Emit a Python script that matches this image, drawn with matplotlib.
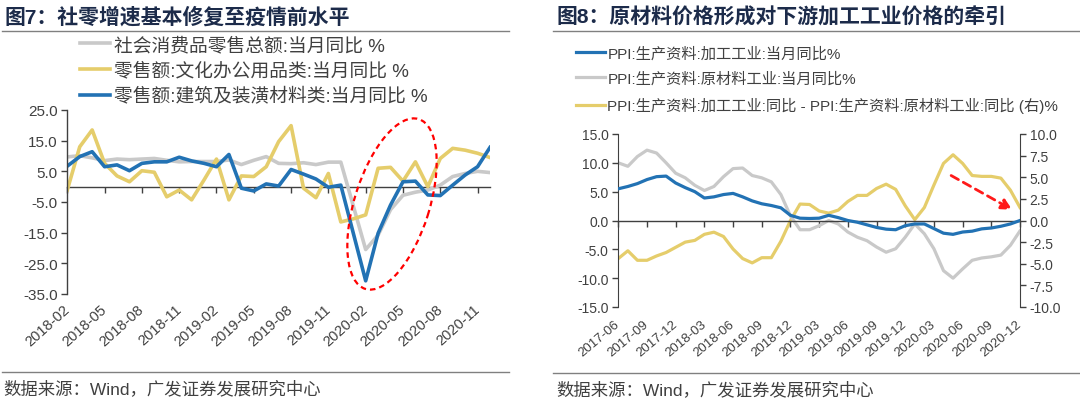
import numpy as np
import pandas as pd
import matplotlib
matplotlib.use('Agg')
import matplotlib.pyplot as plt
from matplotlib.lines import Line2D
from matplotlib.patches import Ellipse
from matplotlib.ticker import FormatStrFormatter

plt.rcParams['font.family'] = ['Liberation Sans', 'Noto Sans CJK SC', 'DejaVu Sans']
plt.rcParams['axes.unicode_minus'] = False

# ---------------- data: left chart (monthly, 2018-02 .. 2020-12) ----------------
months_l = pd.period_range('2018-02', '2020-12', freq='M').strftime('%Y-%m').tolist()
retail_total = [9.7, 10.1, 9.4, 8.5, 9.0, 8.8, 9.0, 9.2, 8.6, 8.1, 8.2, 8.2, 8.2, 8.7, 7.2,
                8.6, 9.8, 7.6, 7.5, 7.8, 7.2, 8.0, 8.0, -6.2, -20.5, -15.8, -7.5, -2.8, -1.8,
                -1.1, 0.5, 3.3, 4.3, 5.0, 4.6]
office_supplies = [-1.1, 13.0, 18.5, 7.6, 3.5, 1.6, 5.2, 4.7, -3.3, -1.1, -4.3, 2.2, 9.0, -4.3,
                   3.5, 3.3, 6.5, 14.7, 19.9, -0.5, -3.6, 4.3, -11.5, -10.5, -9.2, 6.0, 6.3,
                   1.8, 8.1, 0.0, 9.2, 12.5, 11.9, 10.9, 9.5]
building_mat = [6.7, 9.8, 11.4, 6.5, 7.1, 5.2, 7.6, 8.1, 8.1, 9.6, 8.4, 7.6, 6.5, 10.5, -0.5,
                -1.4, 0.9, 0.2, 5.6, 4.1, 2.5, -0.2, 0.5, -15.1, -30.7, -15.2, -6.0, 1.6, 1.8,
                -2.7, -2.9, 0.5, 3.8, 6.5, 12.8]
labels_l = ['社会消费品零售总额:当月同比 %', '零售额:文化办公用品类:当月同比 %',
            '零售额:建筑及装潢材料类:当月同比 %']

# ---------------- data: right chart (monthly, 2017-06 .. 2020-12) ----------------
months_r = pd.period_range('2017-06', '2020-12', freq='M').strftime('%Y-%m').tolist()
ppi_processing = [5.5, 5.9, 6.4, 7.1, 7.6, 7.7, 6.5, 5.7, 5.0, 3.9, 4.1, 4.5, 4.7, 4.1, 3.4,
                  2.9, 2.6, 2.2, 0.9, 0.4, 0.35, 0.4, 0.9, 0.5, 0.0, -0.3, -0.75, -1.2, -1.5,
                  -1.6, -0.9, -0.6, -0.6, -1.4, -2.2, -2.4, -2.0, -1.85, -1.45, -1.3, -1.0,
                  -0.6, 0.0]
ppi_raw = [10.0, 9.4, 11.1, 12.2, 11.7, 10.0, 8.2, 7.4, 6.1, 5.2, 5.9, 7.6, 9.0, 9.1, 7.8,
           7.4, 6.7, 4.5, 0.8, -1.6, -1.6, -0.9, 0.0, -0.6, -2.0, -2.9, -3.5, -4.6, -5.5,
           -4.9, -2.9, -0.6, -2.3, -4.9, -8.7, -10.0, -8.4, -6.9, -6.5, -6.3, -6.0, -4.3,
           -1.8]
ppi_spread = [-4.4, -3.5, -4.6, -4.6, -4.1, -3.7, -3.1, -2.5, -2.3, -1.6, -1.35, -1.85, -3.3,
              -4.4, -4.9, -4.3, -4.3, -2.4, 0.0, 1.9, 1.85, 1.1, 0.85, 1.2, 2.2, 2.9, 2.9,
              3.7, 4.2, 3.6, 1.7, 0.1, 1.5, 4.1, 6.6, 7.6, 6.6, 5.2, 5.1, 5.1, 4.9, 3.5, 1.5]
labels_r = ['PPI:生产资料:加工工业:当月同比%', 'PPI:生产资料:原材料工业:当月同比%',
            'PPI:生产资料:加工工业:同比 - PPI:生产资料:原材料工业:同比 (右)%']

title_l = '图7：社零增速基本修复至疫情前水平'
title_r = '图8：原材料价格形成对下游加工工业价格的牵引'
source = '数据来源：Wind，广发证券发展研究中心'

# ---------------- style ----------------
BLUE = '#2272b4'
GRAY = '#c9c9c9'
YELLOW = '#e5cd6b'
AXC = '#404040'
TXT = '#404040'
TITLE_C = '#1c2b4a'
RULE_C = '#808080'

W, H = 1080, 406
fig = plt.figure(figsize=(W / 100, H / 100), dpi=100)


def fx(px):
    return px / W


def fy(py):
    return 1 - py / H


def rule(x0, x1, y):
    fig.add_artist(Line2D([fx(x0), fx(x1)], [fy(y), fy(y)], color=RULE_C, lw=1.0))


# titles, rules and sources
fig.text(fx(4), fy(17), title_l, fontsize=15, fontweight='bold', color=TITLE_C,
         va='center', ha='left')
fig.text(fx(556), fy(17), title_r, fontsize=15, fontweight='bold', color=TITLE_C,
         va='center', ha='left')
rule(2, 509, 32)
rule(553, 1080, 32)
rule(2, 509, 373)
rule(553, 1080, 374)
fig.text(fx(3), fy(389), source, fontsize=12.5, color=TXT, va='center', ha='left')
fig.text(fx(556), fy(390), source, fontsize=12.5, color=TXT, va='center', ha='left')

# ---------------- left chart ----------------
axL = fig.add_axes([fx(67.3), fy(295), fx(490) - fx(67.3), fy(111) - fy(295)])
xl = np.arange(len(months_l))
lnL = []
lnL += axL.plot(xl, retail_total, color=GRAY, lw=2.6, label=labels_l[0], solid_joinstyle='round')
lnL += axL.plot(xl, office_supplies, color=YELLOW, lw=2.6, label=labels_l[1], solid_joinstyle='round')
lnL += axL.plot(xl, building_mat, color=BLUE, lw=2.6, label=labels_l[2], solid_joinstyle='round')
axL.set_xlim(0, len(xl) - 1)
axL.set_ylim(-35, 25)
axL.set_yticks(np.arange(-35, 26, 10))
axL.yaxis.set_major_formatter(FormatStrFormatter('%.1f'))
for s in ['top', 'right']:
    axL.spines[s].set_visible(False)
axL.spines['left'].set_color(AXC)
axL.spines['left'].set_linewidth(1.0)
axL.spines['bottom'].set_position(('data', 0))
axL.spines['bottom'].set_color(AXC)
axL.spines['bottom'].set_linewidth(1.0)
axL.spines['bottom'].set_zorder(1)
axL.tick_params(axis='y', direction='out', length=4, width=1, color=AXC,
                labelsize=11, labelcolor=TXT, pad=3)
axL.set_xticks(xl[::3])
axL.tick_params(axis='x', direction='out', length=4, width=1, color=AXC, labelbottom=False)
secL = axL.secondary_xaxis('bottom')
secL.spines['bottom'].set_visible(False)
secL.set_xticks(xl[::3])
secL.set_xticklabels(months_l[::3], rotation=42, ha='right', va='center',
                     rotation_mode='anchor')
secL.tick_params(axis='x', length=0, pad=9, labelsize=10.5, labelcolor=TXT)

fig.legend(handles=lnL, labels=labels_l, loc='upper left',
           bbox_to_anchor=(fx(80), fy(37)), frameon=False, fontsize=13.5,
           handlelength=1.6, handletextpad=0.2, labelspacing=0.42, borderpad=0,
           borderaxespad=0, labelcolor=TXT)

ell = Ellipse((3.92, (H - 205) / 100), width=1.78, height=0.75, angle=72.5,
              transform=fig.dpi_scale_trans, fill=False, edgecolor='#ff0000',
              lw=1.6, linestyle=(0, (2.5, 1.8)), zorder=5)
fig.add_artist(ell)

# ---------------- right chart ----------------
axR = fig.add_axes([fx(618.3), fy(308), fx(1020) - fx(618.3), fy(135) - fy(308)])
xr = np.arange(len(months_r))
axR2 = axR.twinx()
lnR = []
lnR += axR.plot(xr, ppi_processing, color=BLUE, lw=2.3, label=labels_r[0], zorder=3)
lnR += axR.plot(xr, ppi_raw, color=GRAY, lw=2.3, label=labels_r[1], zorder=2)
lnR += axR2.plot(xr, ppi_spread, color=YELLOW, lw=2.3, label=labels_r[2])
axR.set_zorder(axR2.get_zorder() + 1)
axR.patch.set_visible(False)
axR.set_xlim(0, len(xr) - 1)
axR.set_ylim(-15, 15)
axR.set_yticks(np.arange(-15, 16, 5))
axR2.set_ylim(-10, 10)
axR2.set_yticks(np.arange(-10, 10.1, 2.5))
axR.yaxis.set_major_formatter(FormatStrFormatter('%.1f'))
axR2.yaxis.set_major_formatter(FormatStrFormatter('%.1f'))
for a in (axR, axR2):
    a.spines['top'].set_visible(False)
    a.spines['bottom'].set_visible(False)
axR.spines['right'].set_visible(False)
axR2.spines['left'].set_visible(False)
axR.spines['left'].set_color(AXC)
axR2.spines['right'].set_color(AXC)
axR.spines['bottom'].set_visible(True)
axR.spines['bottom'].set_position(('data', 0))
axR.spines['bottom'].set_color(AXC)
axR.spines['bottom'].set_linewidth(1.0)
axR.tick_params(axis='y', direction='out', length=4, width=1, color=AXC,
                labelsize=10, labelcolor=TXT, pad=3)
axR2.tick_params(axis='y', direction='out', length=4, width=1, color=AXC,
                 labelsize=10, labelcolor=TXT, pad=3)
axR.set_xticks(xr[::3])
axR.tick_params(axis='x', direction='out', length=4, width=1, color=AXC, labelbottom=False)
secR = axR.secondary_xaxis('bottom')
secR.spines['bottom'].set_visible(False)
secR.set_xticks(xr[::3])
secR.set_xticklabels(months_r[::3], rotation=40, ha='right', va='center',
                     rotation_mode='anchor')
secR.tick_params(axis='x', length=0, pad=11, labelsize=9.5, labelcolor=TXT)

axR2.annotate('', xy=(41.2, 1.24), xytext=(34.8, 5.2),
              arrowprops=dict(arrowstyle='-|>', color='#ff1a1a', lw=2.0,
                              linestyle=(0, (3, 2)), mutation_scale=16,
                              shrinkA=0, shrinkB=0), zorder=6)

fig.legend(handles=lnR, labels=labels_r, loc='upper left',
           bbox_to_anchor=(fx(576), fy(47)), frameon=False, fontsize=11,
           handlelength=1.9, handletextpad=0.15, labelspacing=0.72, borderpad=0,
           borderaxespad=0, labelcolor=TXT)

fig.savefig('out.png', dpi=100)
